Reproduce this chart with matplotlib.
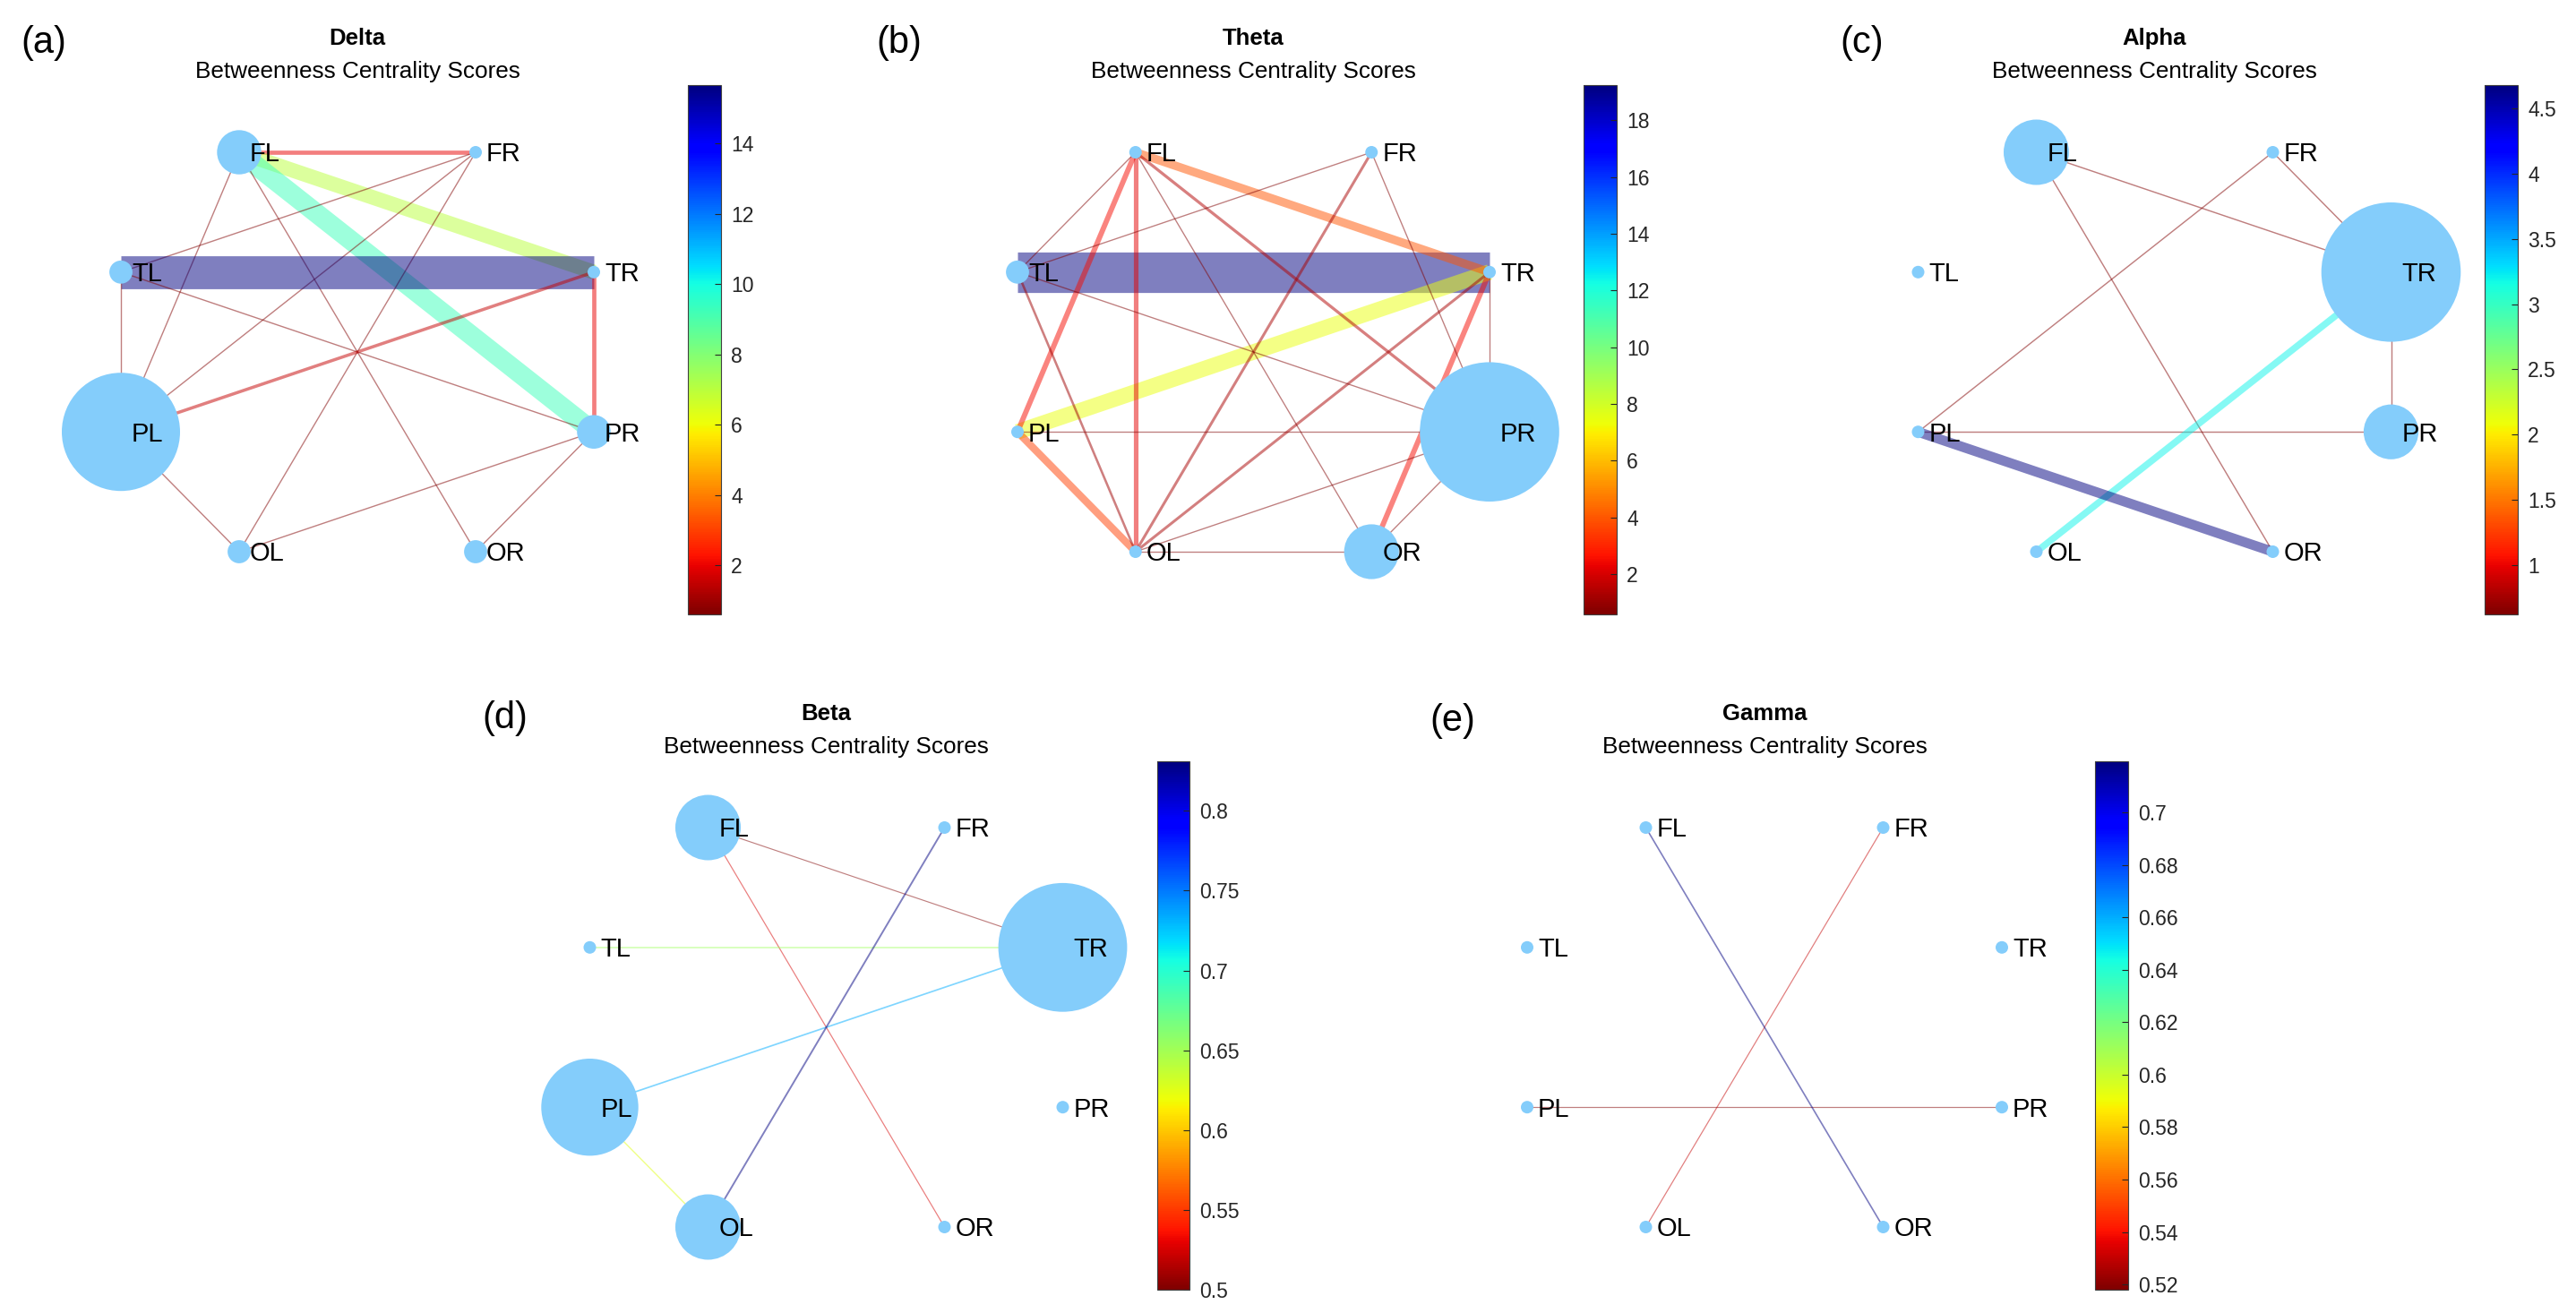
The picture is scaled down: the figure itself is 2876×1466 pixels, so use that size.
import numpy as np
import matplotlib
matplotlib.use('Agg')
import matplotlib.pyplot as plt
from matplotlib.collections import LineCollection
from matplotlib.colors import Normalize
from matplotlib.cm import ScalarMappable
from matplotlib.ticker import FuncFormatter

plt.rcParams['font.family'] = ['Liberation Sans', 'DejaVu Sans']

# --- nodes (same layout for all bands) ---
nodes = ['FL', 'FR', 'TL', 'TR', 'PL', 'PR', 'OL', 'OR']
node_x = [-1, 1, -2, 2, -2, 2, -1, 1]
node_y = [2.5, 2.5, 1, 1, -1, -1, -2.5, -2.5]

# --- Delta ---
delta_edges = [('FL', 'FR'), ('FL', 'TR'), ('FL', 'PR'), ('FL', 'PL'), ('FL', 'OR'),
               ('FR', 'TL'), ('FR', 'PL'), ('FR', 'OL'), ('TL', 'TR'), ('TL', 'PL'),
               ('TL', 'PR'), ('TR', 'PL'), ('TR', 'PR'), ('PL', 'OL'), ('PR', 'OL'),
               ('PR', 'OR')]
delta_w = [2.0, 7.0, 9.3, 0.6, 0.6,
           0.6, 0.6, 0.6, 15.66, 0.6,
           0.6, 1.5, 2.0, 0.6, 0.6,
           0.6]
delta_bc = [3, 0, 1, 0, 10, 2, 1, 1]
delta_ticks = [2, 4, 6, 8, 10, 12, 14]

# --- Theta ---
theta_edges = [('TL', 'TR'), ('PL', 'TR'), ('FL', 'TR'), ('PL', 'OL'), ('FL', 'PL'),
               ('FL', 'OL'), ('OR', 'TR'), ('FL', 'PR'), ('FR', 'OL'), ('TR', 'OL'),
               ('TL', 'OL'), ('FL', 'TL'), ('FL', 'OR'), ('FR', 'TL'), ('FR', 'PR'),
               ('TL', 'PR'), ('TR', 'PR'), ('PL', 'PR'), ('OL', 'PR'), ('OL', 'OR'),
               ('OR', 'PR')]
theta_w = [19.24, 7.4, 4.0, 3.5, 2.5,
           2.2, 2.5, 1.4, 1.3, 1.3,
           1.1, 0.58, 0.58, 0.58, 0.58,
           0.58, 0.58, 0.58, 0.58, 0.58,
           0.58]
theta_bc = [0, 0, 1, 0, 0, 12, 0, 4]
theta_ticks = [2, 4, 6, 8, 10, 12, 14, 16, 18]

# --- Alpha ---
alpha_edges = [('FL', 'TR'), ('FL', 'OR'), ('FR', 'PL'), ('FR', 'TR'), ('TR', 'PR'),
               ('PL', 'PR'), ('TR', 'OL'), ('PL', 'OR')]
alpha_w = [0.62, 0.62, 0.62, 0.62, 0.62, 0.62, 3.2, 4.68]
alpha_bc = [5, 0, 0, 12, 0, 4, 0, 0]
alpha_ticks = [1, 1.5, 2, 2.5, 3, 3.5, 4, 4.5]

# --- Beta ---
beta_edges = [('FL', 'TR'), ('FL', 'OR'), ('TL', 'TR'), ('PL', 'TR'), ('PL', 'OL'),
              ('FR', 'OL')]
beta_w = [0.5, 0.525, 0.652, 0.733, 0.625, 0.831]
beta_bc = [5, 0, 0, 11, 8, 0, 5, 0]
beta_ticks = [0.5, 0.55, 0.6, 0.65, 0.7, 0.75, 0.8]

# --- Gamma ---
gamma_edges = [('PL', 'PR'), ('FR', 'OL'), ('FL', 'OR')]
gamma_w = [0.518, 0.53, 0.7195]
gamma_bc = [0, 0, 0, 0, 0, 0, 0, 0]
gamma_ticks = [0.52, 0.54, 0.56, 0.58, 0.6, 0.62, 0.64, 0.66, 0.68, 0.7]

W, H = 2876, 1466
fig = plt.figure(figsize=(W / 100, H / 100), dpi=100)

PX2PT = 0.72
node_color = '#84CDFB'


def fx(px):
    return px / W


def fy(py):
    return 1 - py / H


def draw_panel(letter, band, edges, weights, bc, ticks, cx, cy, ux, uy, cbx, cby, lab_xy):
    # graph axes: data unit ux px horizontally, uy px vertically
    ax = fig.add_axes([fx(cx - 3 * ux), fy(cy + 3.2 * uy), 6 * ux / W, 6.4 * uy / H])
    ax.set_xlim(-3, 3)
    ax.set_ylim(-3.2, 3.2)
    ax.axis('off')

    norm = Normalize(vmin=min(weights), vmax=max(weights))
    cmap = plt.get_cmap('jet_r')
    idx = {n: i for i, n in enumerate(nodes)}
    segs = [[(node_x[idx[a]], node_y[idx[a]]), (node_x[idx[b]], node_y[idx[b]])] for a, b in edges]
    lc = LineCollection(segs, colors=cmap(norm(np.array(weights))),
                        linewidths=[2.35 * w * PX2PT for w in weights],
                        alpha=0.5, capstyle='butt', zorder=1)
    ax.add_collection(lc)

    diam = [14 + 11.8 * b for b in bc]
    ax.scatter(node_x, node_y, s=[(d * PX2PT) ** 2 for d in diam], c=node_color,
               linewidths=0, zorder=3)
    for n, x, y in zip(nodes, node_x, node_y):
        ax.annotate(n, (x, y), xytext=(12 * PX2PT, -7.5), textcoords='offset points',
                    ha='left', va='baseline', fontsize=21, color='black', zorder=4)

    # titles
    fig.text(fx(cx), fy(cy - 350), band, ha='center', va='center', fontsize=18.5,
             fontweight='bold', color='black')
    fig.text(fx(cx), fy(cy - 313), 'Betweenness Centrality Scores', ha='center',
             va='center', fontsize=18.8, color='black')
    fig.text(fx(lab_xy[0]), fy(lab_xy[1]), '(' + letter + ')', ha='left', va='center',
             fontsize=30, color='black')

    # colorbar
    cax = fig.add_axes([fx(cbx[0]), fy(cby[1]), (cbx[1] - cbx[0]) / W, (cby[1] - cby[0]) / H])
    sm = ScalarMappable(norm=norm, cmap=cmap)
    cb = fig.colorbar(sm, cax=cax, ticks=ticks)
    cb.outline.set_edgecolor('#404040')
    cb.outline.set_linewidth(0.8)
    cax.yaxis.set_major_formatter(FuncFormatter(lambda v, p: '%g' % round(v, 4)))
    cax.tick_params(axis='y', direction='in', length=5, width=0.8, color='#262626',
                    labelsize=16.5, labelcolor='#262626', pad=8)


draw_panel('a', 'Delta', delta_edges, delta_w, delta_bc, delta_ticks,
           399, 393, 132, 89.2, (768, 805), (95, 686), (23, 48))
draw_panel('b', 'Theta', theta_edges, theta_w, theta_bc, theta_ticks,
           1399.5, 393, 131.75, 89.2, (1768, 1805), (95, 686), (978, 48))
draw_panel('c', 'Alpha', alpha_edges, alpha_w, alpha_bc, alpha_ticks,
           2405.5, 393, 132, 89.2, (2774, 2811), (95, 686), (2054, 48))
draw_panel('d', 'Beta', beta_edges, beta_w, beta_bc, beta_ticks,
           922.5, 1147, 132, 89.2, (1292, 1328), (850, 1440), (538, 802))
draw_panel('e', 'Gamma', gamma_edges, gamma_w, gamma_bc, gamma_ticks,
           1970, 1147, 132.5, 89.2, (2339, 2376), (850, 1440), (1596, 805))

fig.savefig('out.png', dpi=100)
